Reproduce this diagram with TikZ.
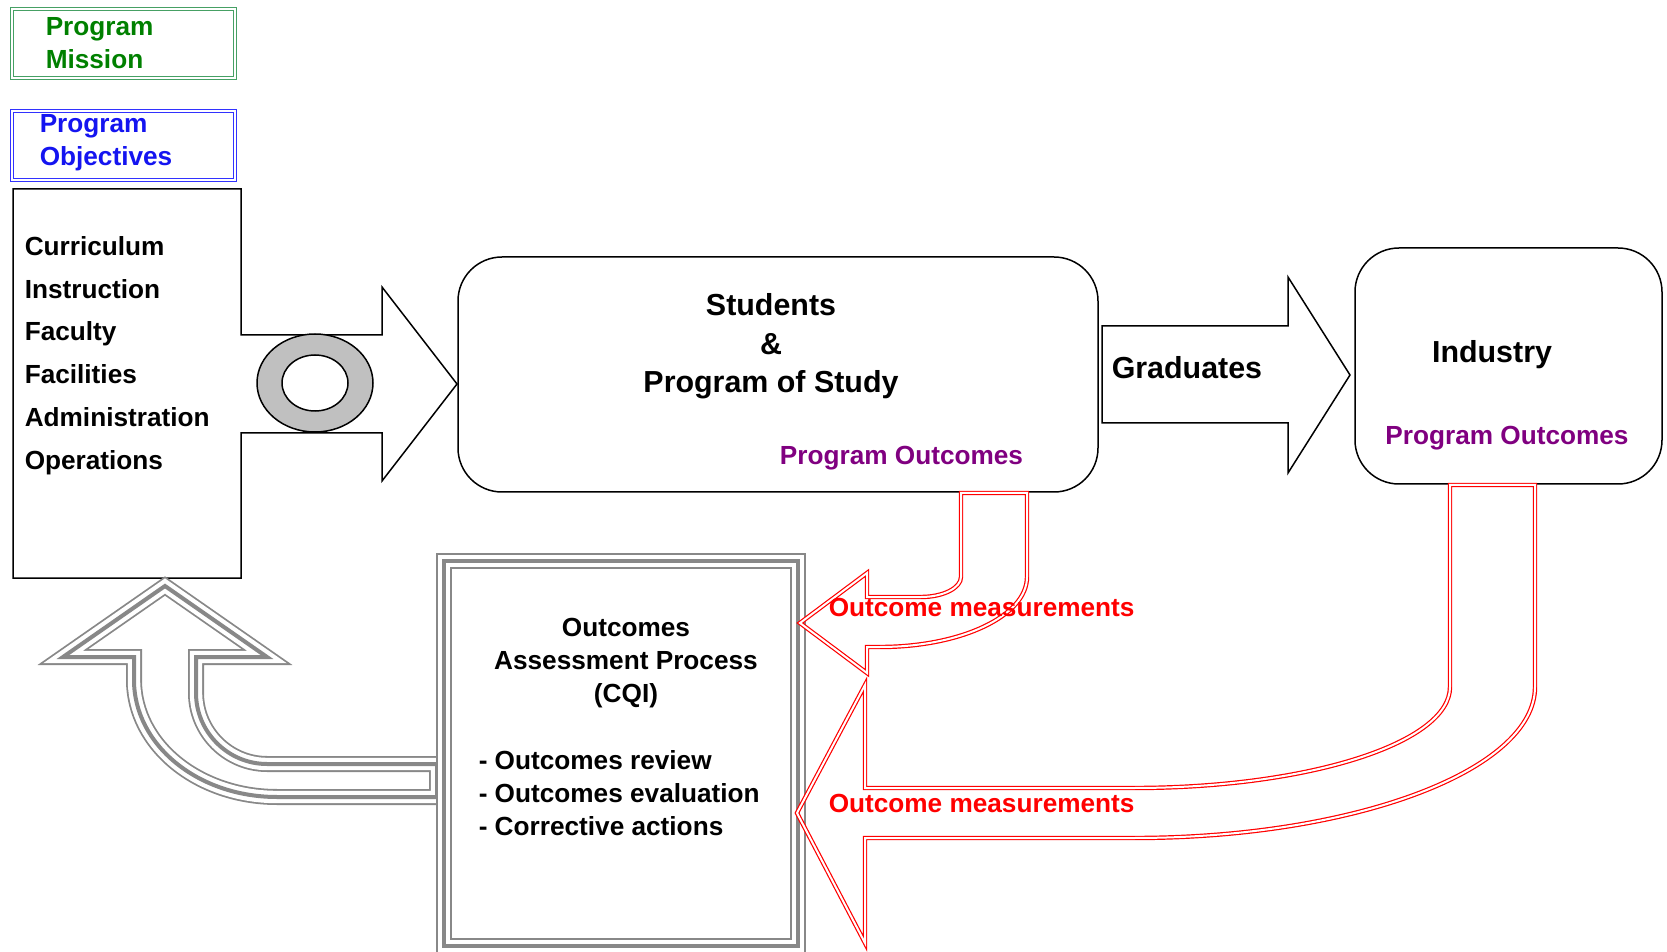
\documentclass[tikz,border=0pt]{standalone}
\usepackage{fontspec}
\setmainfont{Liberation Sans}
\definecolor{missiongreen}{RGB}{0,128,0}
\definecolor{missionrim}{RGB}{70,160,100}
\definecolor{objblue}{RGB}{20,20,240}
\definecolor{objrim}{RGB}{50,50,255}
\definecolor{outcomepurple}{RGB}{128,0,128}
\definecolor{rimgray}{RGB}{136,136,136}
\definecolor{ringgray}{RGB}{192,192,192}
\tikzset{
	txt/.style={font=\bfseries\fontsize{13.1}{16.5}\selectfont, inner sep=0pt},
	listtxt/.style={font=\bfseries\fontsize{13.1}{21.4}\selectfont, inner sep=0pt},
	bigtxt/.style={font=\bfseries\fontsize{15.2}{19.25}\selectfont, inner sep=0pt},
	rimbox/.style={draw=#1, double=white, double distance=1pt, line width=0.5pt, inner sep=0pt},
	softbox/.style={draw, rounded corners=22pt, inner sep=0pt},
	measure/.style={draw=red, double=white, double distance=1pt, line width=0.6pt},
	triple/.style={draw=rimgray, line width=8pt,
		postaction={draw=white, line width=6.2pt},
		postaction={draw=rimgray, line width=2pt}}
}
\begin{document}
\begin{tikzpicture}[x=0.5pt, y=-0.5pt, line width=0.75pt]
				\useasboundingbox (0,0) rectangle (1667,952);

				\node (Mission) [rimbox=missionrim, minimum width=111.5pt, minimum height=34.5pt] at (123.5, 43.5) {};
				\node (MissionText) [txt, align=left, anchor=west, text=missiongreen] at (45, 43.5) {Program\\Mission};

				\node (Objectives) [rimbox=objrim, minimum width=111.5pt, minimum height=34.5pt] at (123.5, 145.5) {};
				\node (ObjectivesText) [txt, align=left, anchor=west, text=objblue] at (39, 142.7) {Program\\Objectives};

				\draw (13,189) -- (241,189) -- (241,335) -- (382,335) -- (382,287) -- (457,384)
					-- (382,481) -- (382,433) -- (241,433) -- (241,578) -- (13,578) -- cycle;
				\draw [fill=ringgray, even odd rule] (315,383) ellipse [x radius=29pt, y radius=24.5pt]
					(315,383) ellipse [x radius=16.5pt, y radius=14pt];
				\node (Inputs) [listtxt, align=left, anchor=west] at (24, 355.5) {Curriculum\\Instruction\\Faculty\\Facilities\\Administration\\Operations};

				\node (Study) [softbox, minimum width=320pt, minimum height=117.5pt] at (778, 374.5) {};
				\node (StudyText) [bigtxt, align=center] at (771, 346.4) {Students\\\&\\Program of Study};
				\node (StudyOut) [txt, anchor=base, text=outcomepurple] at (901.5, 464.4) {Program Outcomes};

				\draw (1102,326) -- (1288,326) -- (1288,277) -- (1350,375) -- (1288,473) -- (1288,423) -- (1102,423) -- cycle;
				\node (Grad) [bigtxt, anchor=base west] at (1111, 378.9) {Graduates};

				\node (Industry) [softbox, minimum width=153.5pt, minimum height=118pt] at (1508.5, 366) {};
				\node (IndustryText) [bigtxt, anchor=base] at (1492, 362.9) {Industry};
				\node (IndustryOut) [txt, anchor=base, text=outcomepurple] at (1507, 444.4) {Program Outcomes};

				\draw [triple] (437,797) -- (277,797) .. controls (198,797) and (134,745) .. (134,680)
					-- (134,657) -- (63,657) -- (165,586) -- (267,657) -- (196,657) -- (196,693)
					.. controls (196,732) and (228,764) .. (267,764) -- (437,764) -- cycle;
				\node (CQI) [triple, minimum width=177pt, minimum height=192.5pt] at (621, 753.5) {};
				\node (CQITitle) [txt, align=center] at (626, 663.5) {Outcomes\\Assessment Process\\(CQI)};
				\node (CQIList) [txt, align=left, anchor=west] at (478, 792.7) {- Outcomes review\\- Outcomes evaluation\\- Corrective actions};

				\draw [measure] (961,493) -- (1027,493) -- (1027,577) .. controls (1027,616) and (961,647) .. (880,647)
					-- (867,647) -- (867,673) -- (800,623) -- (867,573) -- (867,597) -- (921,597)
					.. controls (943,597) and (961,588) .. (961,577) -- cycle;
				\node (MeasureA) [txt, anchor=base west, text=red] at (828, 616.4) {Outcome measurements};

				\draw [measure] (1450,485) -- (1535,485) -- (1535,687) .. controls (1535,770) and (1355,838) .. (1134,838)
					-- (865,838) -- (865,943) -- (797,813) -- (865,685) -- (865,788) -- (1134,788)
					.. controls (1308,788) and (1450,743) .. (1450,687) -- cycle;
				\node (MeasureB) [txt, anchor=base west, text=red] at (828, 812.4) {Outcome measurements};
			\end{tikzpicture}
\end{document}
